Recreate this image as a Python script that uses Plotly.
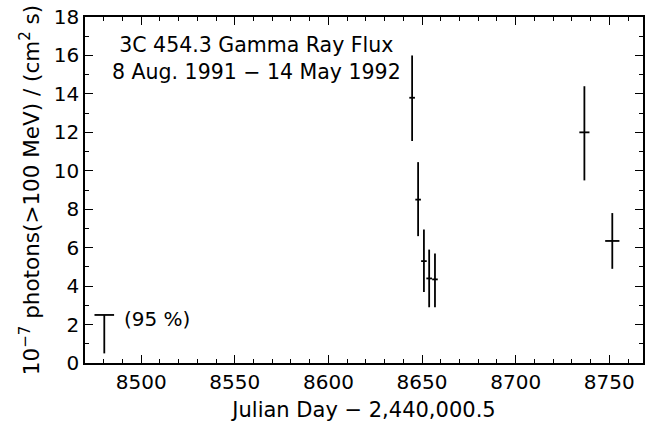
import plotly.graph_objects as go

# Detections
days = [8644.7, 8647.9, 8651.0, 8653.8, 8656.9, 8736.7, 8751.6]
flux = [13.8, 8.5, 5.3, 4.4, 4.35, 12.0, 6.35]
err_plus = [2.2, 1.95, 1.65, 1.5, 1.35, 2.4, 1.45]
err_minus = [2.25, 1.9, 1.6, 1.5, 1.45, 2.5, 1.45]
half_width = [1.5, 1.5, 1.5, 1.5, 1.5, 2.7, 3.8]

# Upper limit (95 %)
ul_day = [8480.3, 8480.3]
ul_range = [0.5, 2.5]
ul_label = "(95 %)"

title_lines = ["3C 454.3 Gamma Ray Flux", "8 Aug. 1991 \u2212 14 May 1992"]

FONT = "DejaVu Sans"
fig = go.Figure()

fig.add_trace(go.Scatter(
    x=days, y=flux, mode="markers",
    marker=dict(size=0.1, color="black"),
    error_y=dict(type="data", symmetric=False, array=err_plus, arrayminus=err_minus,
                 width=0, thickness=1.8, color="black"),
    error_x=dict(type="data", array=half_width, width=0, thickness=1.8, color="black"),
    showlegend=False, hoverinfo="skip"))

fig.add_trace(go.Scatter(
    x=ul_day, y=ul_range, mode="lines", line=dict(color="black", width=1.8),
    showlegend=False, hoverinfo="skip"))
fig.add_trace(go.Scatter(
    x=[ul_day[1]], y=[ul_range[1]], mode="markers",
    marker=dict(symbol="line-ew", size=14, line=dict(color="black", width=1.8)),
    showlegend=False, hoverinfo="skip"))

fig.add_annotation(x=8490, y=2.3, xref="x", yref="y", text=ul_label, showarrow=False,
                   xanchor="left", yanchor="middle", font=dict(family=FONT, size=20, color="black"))
fig.add_annotation(x=0.307, y=0.879, xref="paper", yref="paper",
                   text="<br>".join(title_lines), showarrow=False, align="center",
                   xanchor="center", yanchor="middle",
                   font=dict(family=FONT, size=20.5, color="black"))

axis_common = dict(
    showgrid=False, zeroline=False, showline=True, linecolor="black", linewidth=1.5,
    mirror="ticks", ticks="inside", ticklen=8, tickwidth=1.3, tickcolor="black",
    tickfont=dict(family=FONT, size=20, color="black"), ticklabeloverflow="allow",
)
fig.update_xaxes(range=[8470, 8768], dtick=50, tick0=8500,
                 minor=dict(dtick=10, ticks="inside", ticklen=4, tickwidth=1.2, tickcolor="black"),
                 title=dict(text="Julian Day \u2212 2,440,000.5",
                            font=dict(family=FONT, size=21, color="black"), standoff=10),
                 **axis_common)
fig.update_yaxes(range=[0, 18.001], dtick=2, tick0=0,
                 minor=dict(dtick=1, ticks="inside", ticklen=4, tickwidth=1.2, tickcolor="black"),
                 title=dict(text="10<sup>\u22127</sup> photons(>100 MeV) / (cm<sup>2</sup> s)",
                            font=dict(family=FONT, size=21.5, color="black"), standoff=8),
                 **axis_common)

fig.update_layout(width=650, height=427, margin=dict(l=85, r=5, t=11, b=64),
                  paper_bgcolor="white", plot_bgcolor="white")
fig.write_html("out.html")
